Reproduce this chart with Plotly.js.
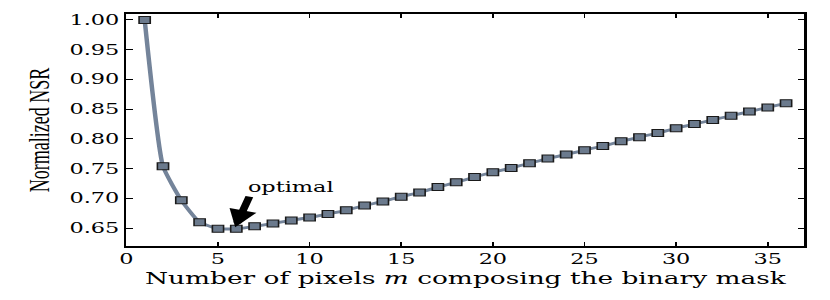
<!DOCTYPE html>
<html>
<head>
<meta charset="utf-8">
<script src="https://cdn.plot.ly/plotly-3.0.1.min.js"></script>
<style>
  html, body { margin: 0; padding: 0; background: #fff; overflow: hidden; }
  #plot { width: 519px; height: 300px; transform-origin: 0 0; }
</style>
</head>
<body>
<div id="plot"></div>
<script>
// Data
const pixelsM = [1, 2, 3, 4, 5, 6, 7, 8, 9, 10, 11, 12, 13, 14, 15, 16, 17, 18,
                 19, 20, 21, 22, 23, 24, 25, 26, 27, 28, 29, 30, 31, 32, 33, 34, 35, 36];
const normalizedNSR = [1.000, 0.754, 0.697, 0.660, 0.649, 0.649, 0.653, 0.658, 0.663, 0.668,
                       0.674, 0.680, 0.688, 0.695, 0.703, 0.710, 0.719, 0.727, 0.736, 0.744,
                       0.751, 0.759, 0.767, 0.774, 0.781, 0.788, 0.796, 0.803, 0.810, 0.818,
                       0.825, 0.832, 0.839, 0.846, 0.853, 0.860];
const xTicks = [0, 5, 10, 15, 20, 25, 30, 35];
const yTicks = [0.65, 0.70, 0.75, 0.80, 0.85, 0.90, 0.95, 1.00];
const optimalM = 6;
const optimalNSR = 0.6516;

const W = 519;
const scaleX = 830 / W;
document.getElementById('plot').style.transform = 'scaleX(' + scaleX + ')';

const serif = 'DejaVu Serif, serif';

const trace = {
  x: pixelsM,
  y: normalizedNSR,
  type: 'scatter',
  mode: 'lines+markers',
  line: { color: '#74849a', width: 2.8, shape: 'spline', smoothing: 0.45 },
  marker: { symbol: 'square', size: 7, color: '#6b7a8d', line: { color: '#1a1a1a', width: 1 } },
  hoverinfo: 'skip'
};

const layout = {
  width: W,
  height: 300,
  margin: { l: 79, r: 16, t: 14, b: 54 },
  paper_bgcolor: '#fff',
  plot_bgcolor: '#fff',
  showlegend: false,
  xaxis: {
    range: [0, 37],
    tickvals: xTicks,
    ticktext: xTicks.map(String),
    ticks: 'inside', ticklen: 4, tickwidth: 1, tickcolor: '#000',
    showline: true, linewidth: 1.6, linecolor: '#000', mirror: 'ticks',
    showgrid: false, zeroline: false,
    tickfont: { family: serif, size: 14, color: '#000' },
    title: { text: 'Number of pixels <i>m</i> composing the binary mask',
             font: { family: serif, size: 16.5, color: '#000' }, standoff: 6 }
  },
  yaxis: {
    range: [0.62, 1.01],
    tickvals: yTicks,
    ticktext: yTicks.map(v => v.toFixed(2)),
    ticks: 'inside', ticklen: 4, tickwidth: 1, tickcolor: '#000',
    showline: true, linewidth: 1.6, linecolor: '#000', mirror: 'ticks',
    showgrid: false, zeroline: false,
    tickfont: { family: serif, size: 14, color: '#000' },
    title: { text: 'Normalized NSR', font: { family: 'Liberation Serif, serif', size: 18, color: '#000' }, standoff: 7 }
  },
  annotations: [
    {
      x: 9.0, y: 0.7195, xref: 'x', yref: 'y',
      text: 'optimal', showarrow: false,
      font: { family: serif, size: 14, color: '#000' }
    },
    {
      x: optimalM - 0.06, y: optimalNSR, xref: 'x', yref: 'y',
      ax: 6.75, ay: 0.7055, axref: 'x', ayref: 'y',
      text: '', showarrow: true,
      arrowhead: 2, arrowsize: 0.7, arrowwidth: 5, arrowcolor: '#000', standoff: 0
    }
  ]
};

Plotly.newPlot('plot', [trace], layout, { displayModeBar: false, staticPlot: true });
</script>
</body>
</html>
